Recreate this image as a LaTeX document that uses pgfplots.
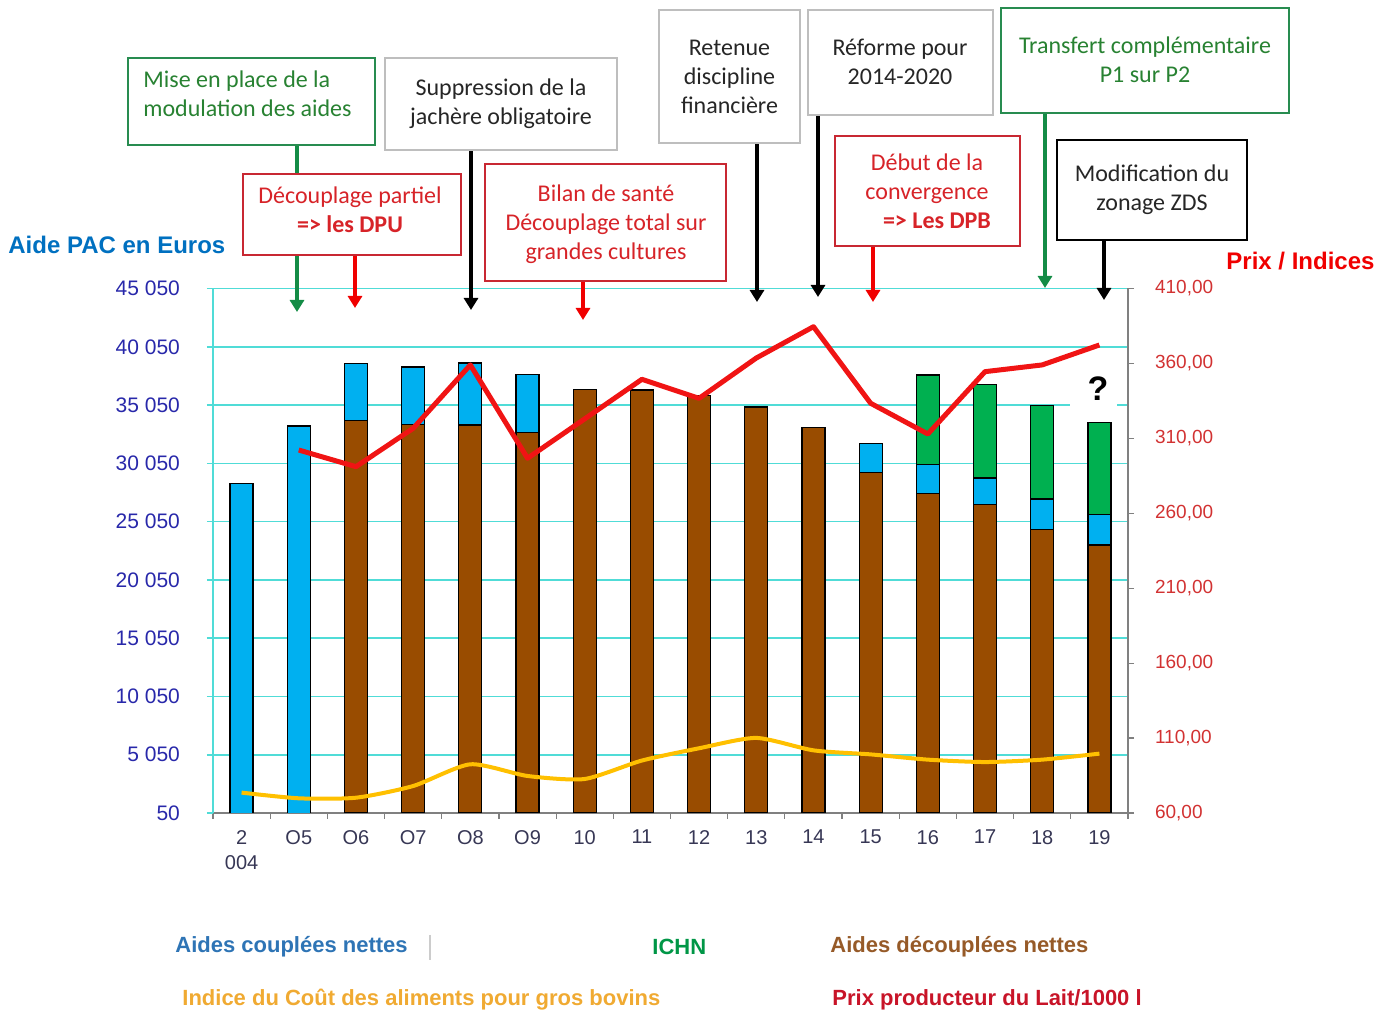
\documentclass[border=0pt]{standalone}
\usepackage{pgfplots}
\usepackage{pgfplotstable}
\pgfplotsset{compat=1.18}
\usetikzlibrary{arrows.meta}
\usepackage{fontspec}
\setmainfont{Liberation Sans}
\newfontfamily\cali{Carlito}

\definecolor{barblue}{RGB}{0,176,240}
\definecolor{barbrown}{RGB}{153,76,0}
\definecolor{bargreen}{RGB}{0,176,80}
\definecolor{gridcyan}{RGB}{80,220,215}
\definecolor{tickblue}{RGB}{40,40,170}
\definecolor{tickred}{RGB}{210,50,50}
\definecolor{linered}{RGB}{240,20,20}
\definecolor{lineyellow}{RGB}{255,192,0}
\definecolor{titleblue}{RGB}{0,112,192}
\definecolor{boxgreen}{RGB}{40,140,80}
\definecolor{txtgreen}{RGB}{40,130,50}
\definecolor{boxred}{RGB}{200,40,50}
\definecolor{txtred}{RGB}{215,35,40}
\definecolor{boxgray}{RGB}{190,190,190}
\definecolor{xlab}{RGB}{55,55,85}
\definecolor{arrgreen}{RGB}{20,140,70}
\definecolor{arrred}{RGB}{240,0,0}

\pgfplotstableread{
x brown blue green
0 0 28340 0
1 0 33250 0
2 33710 4920 0
3 33370 4950 0
4 33340 5320 0
5 32710 4950 0
6 36400 0 0
7 36340 0 0
8 35850 0 0
9 34880 0 0
10 33110 0 0
11 29280 2490 0
12 27480 2490 7660
13 26540 2250 8040
14 24390 2600 8010
15 23040 2640 7860
}\aides

\pgfplotstableread{
x cout
0 73.6
1 69.8
2 70.2
3 78.0
4 92.5
5 84.7
6 82.7
7 95.0
8 103.2
9 110.1
10 101.8
11 99.1
12 95.6
13 94.0
14 95.6
15 99.6
}\cout

\pgfplotstableread{
x lait
1 302.2
2 291.1
3 316.7
4 359.0
5 296.7
6 323.0
7 349.4
8 336.7
9 363.6
10 384.5
11 333.4
12 312.9
13 354.5
14 359.0
15 372.3
}\lait

\begin{document}
\begin{tikzpicture}
\begin{axis}[
  at={(0,0)}, anchor=south west,
  scale only axis, width=457.5pt, height=262.25pt,
  xmin=-0.5, xmax=15.5,
  ymin=50, ymax=45050,
  scaled y ticks=false,
  ybar stacked, bar width=11.5pt,
  axis x line*=bottom, axis y line*=left,
  x axis line style={draw=gray, line width=0.8pt},
  y axis line style={draw=gridcyan, line width=0.8pt},
  xtick={0,...,15},
  xticklabels={{2\\004},O5,O6,O7,O8,O9,10,11,12,13,14,15,16,17,18,19},
  major x tick style={draw=none},
  minor xtick={-0.5,0.5,...,15.5},
  minor x tick style={draw=gray, line width=0.6pt},
  minor tick length=3pt,
  tick align=outside,
  xticklabel style={align=center, font=\fontsize{10}{12.5}\selectfont, text=xlab, yshift=-2pt},
  ytick={50,5050,...,45050},
  yticklabels={50,5 050,10 050,15 050,20 050,25 050,30 050,35 050,40 050,45 050},
  ytick style={draw=gridcyan, line width=0.8pt},
  major tick length=3pt,
  yticklabel style={font=\fontsize{10.5}{12}\selectfont, text=tickblue, xshift=-10pt},
  ymajorgrids, grid style={draw=gridcyan, line width=0.8pt},
  /pgf/number format/assume math mode=true,
]
\addplot[fill=barbrown, draw=black, line width=0.6pt] table[x=x,y=brown]{\aides};
\addplot[fill=barblue, draw=black, line width=0.6pt] table[x=x,y=blue]{\aides};
\addplot[fill=bargreen, draw=black, line width=0.6pt] table[x=x,y=green]{\aides};
\end{axis}
\begin{axis}[
  at={(0,0)}, anchor=south west,
  scale only axis, width=457.5pt, height=262.25pt,
  xmin=-0.5, xmax=15.5,
  ymin=60, ymax=410,
  scaled y ticks=false,
  hide x axis,
  axis y line*=right,
  y axis line style={draw=gray, line width=0.6pt},
  ytick={60,110,...,410},
  yticklabels={{60,00},{110,00},{160,00},{210,00},{260,00},{310,00},{360,00},{410,00}},
  ytick style={draw=gray, line width=0.6pt},
  tick align=outside, major tick length=3pt,
  yticklabel style={font=\fontsize{9.5}{11}\selectfont, text=tickred, xshift=7pt},
  /pgf/number format/assume math mode=true,
]
\addplot[draw=lineyellow, line width=2pt, smooth, tension=0.4] table[x=x,y=cout]{\cout};
\addplot[draw=linered, line width=2.5pt, line join=round] table[x=x,y=lait]{\lait};
\end{axis}

\begin{scope}[shift={(-106.5pt,406.5pt)}, x=0.5pt, y=-0.5pt]
  \tikzset{arr/.style={line width=2pt, -{Triangle[width=7pt,length=6pt]}},
           bx/.style={fill=white, line width=0.8pt},
           bt/.style={align=center, font=\cali\fontsize{12}{14.5}\selectfont, inner sep=0pt}}
  % arrows
  \draw[arr, arrgreen] (297,145) -- (297,312);
  \draw[arr, arrred] (355,255) -- (355,308);
  \draw[arr, black] (471,150) -- (471,310);
  \draw[arr, arrred] (583,281) -- (583,320);
  \draw[arr, black] (757,143) -- (757,302);
  \draw[arr, black] (818,115) -- (818,297);
  \draw[arr, arrred] (873,246) -- (873,302);
  \draw[arr, arrgreen] (1045,113) -- (1045,288);
  \draw[arr, black] (1104,240) -- (1104,300);
  % boxes
  \draw[bx, draw=boxgreen] (128,58) rectangle (375,145);
  \node[bt, align=left, anchor=west, text=txtgreen] at (143,94) {Mise en place de la\\modulation des aides};
  \draw[bx, draw=boxred] (243,174) rectangle (461,255);
  \node[bt, text=txtred] at (350,210) {Découplage partiel\\\textbf{=> les DPU}};
  \draw[bx, draw=boxgray] (385,58) rectangle (617,150);
  \node[bt, text=black!85] at (501,103.5) {Suppression de la\\jachère obligatoire};
  \draw[bx, draw=boxred] (485,164) rectangle (726,281);
  \node[bt, text=txtred] at (606,224.5) {Bilan de santé\\Découplage total sur\\grandes cultures};
  \draw[bx, draw=boxgray] (659,10) rectangle (800,143);
  \node[bt, text=black!85] at (729.5,76.5) {Retenue\\discipline\\financière};
  \draw[bx, draw=boxgray] (808,10) rectangle (993,115);
  \node[bt, text=black!85] at (900,61.5) {Réforme pour\\2014-2020};
  \draw[bx, draw=boxred] (835,136) rectangle (1020,246);
  \node[bt, text=txtred] at (927,191.5) {Début de la\\convergence\\\hspace*{10pt}\textbf{=> Les DPB}};
  \draw[bx, draw=boxgreen] (1001,8) rectangle (1289,113);
  \node[bt, text=txtgreen] at (1145,59.5) {Transfert complémentaire\\P1 sur P2};
  \draw[bx, draw=black, line width=1pt] (1057,140) rectangle (1247,240);
  \node[bt, text=black!85] at (1152,189.5) {Modification du\\zonage ZDS};
  % question mark
  \fill[white] (1070,358) rectangle (1117,415);
  \node[font=\fontsize{17}{17}\selectfont\bfseries] at (1098,389) {?};
  % axis titles
  \node[anchor=west, inner sep=0pt, font=\fontsize{12}{14}\selectfont\bfseries, text=titleblue] at (8,245) {Aide PAC en Euros};
  \node[anchor=west, inner sep=0pt, font=\fontsize{12}{14}\selectfont\bfseries, text=arrred] at (1226,261) {Prix / Indices};
  % legend
  \node[anchor=west, inner sep=0pt, font=\fontsize{11}{13}\selectfont\bfseries, text={rgb,255:red,46;green,116;blue,181}] at (175,947) {Aides couplées nettes};
  \draw[gray!40, line width=0.6pt] (430,935) -- (430,960);
  \node[anchor=west, inner sep=0pt, font=\fontsize{11}{13}\selectfont\bfseries, text={rgb,255:red,0;green,150;blue,70}] at (652,947) {ICHN};
  \node[anchor=west, inner sep=0pt, font=\fontsize{11}{13}\selectfont\bfseries, text={rgb,255:red,150;green,90;blue,40}] at (830,947) {Aides découplées nettes};
  \node[anchor=west, inner sep=0pt, font=\fontsize{11}{13}\selectfont\bfseries, text={rgb,255:red,240;green,170;blue,50}] at (182,1000) {Indice du Coût des aliments pour gros bovins};
  \node[anchor=west, inner sep=0pt, font=\fontsize{11}{13}\selectfont\bfseries, text={rgb,255:red,200;green,20;blue,40}] at (832,1000) {Prix producteur du Lait/1000 l};
  \pgfresetboundingbox
  \path[use as bounding box] (0,0) rectangle (1393,1016);
\end{scope}
\end{tikzpicture}
\end{document}
